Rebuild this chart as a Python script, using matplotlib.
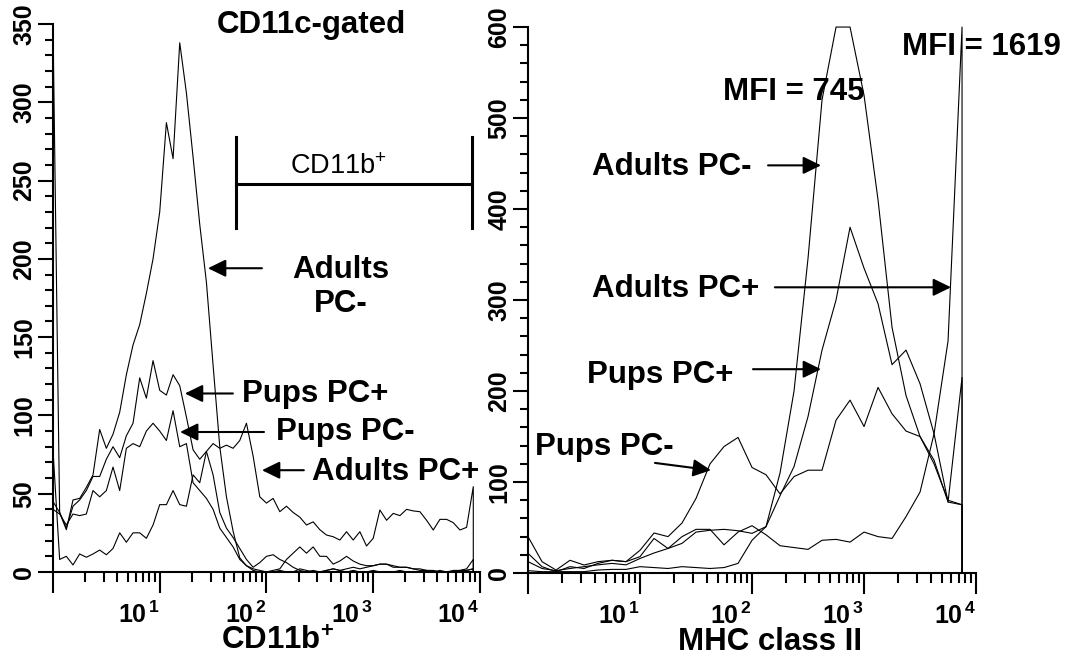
import numpy as np
import matplotlib.pyplot as plt
from matplotlib.ticker import MultipleLocator, LogLocator, NullFormatter

plt.rcParams['font.family'] = ['Liberation Sans', 'DejaVu Sans']
plt.rcParams['mathtext.fontset'] = 'custom'
plt.rcParams['mathtext.rm'] = 'Liberation Sans'
plt.rcParams['mathtext.bf'] = 'Liberation Sans:bold'

# CD11b histograms (CD11c-gated), 16 log channels per decade
cd11b_adults_neg = [350, 38, 27, 46, 47, 54, 62, 91, 79, 88, 102,
                    126, 145, 158, 178, 200, 230, 287, 264, 338, 306,
                    265, 222, 185, 132, 80, 48, 26, 9, 4, 2,
                    1, 0, 0, 1, 0, 0, 2, 1, 0, 0, 1, 2, 1, 0, 1, 0, 0, 1, 0, 0,
                    0, 1, 0, 0, 0, 1, 0, 0, 0, 0, 0, 1, 2]
cd11b_pups_pos = [45, 38, 28, 42, 46, 52, 61, 61, 72, 80, 73,
                  87, 95, 124, 111, 135, 116, 113, 126, 119, 99,
                  78, 72, 77, 62, 38, 28, 22, 15, 8, 3,
                  6, 10, 11, 8, 6, 3, 1, 0, 1, 0, 1, 2, 1, 2, 3, 2, 3, 4, 5, 5,
                  4, 3, 3, 2, 1, 1, 0, 1, 0, 0, 1, 2, 8]
cd11b_pups_neg = [40, 37, 30, 37, 36, 37, 52, 48, 52, 67, 52,
                  79, 82, 80, 90, 95, 90, 84, 103, 80, 82,
                  57, 52, 47, 40, 28, 22, 16, 8, 4, 1,
                  0, 0, 1, 2, 8, 12, 16, 12, 16, 10, 10, 5, 7, 10, 7, 5, 4, 4, 5, 5,
                  3, 3, 3, 2, 2, 1, 1, 0, 0, 1, 1, 1, 2]
cd11b_adults_pos = [78, 8, 10, 4.5, 11.5, 9.4, 11.5, 14, 11, 15, 25,
                    19, 25, 25, 21.5, 30, 43, 43, 52, 43, 42,
                    62, 57, 77, 82, 79, 81, 79, 84, 95, 74,
                    48, 44, 47, 38.5, 42, 38, 35, 30, 32, 27, 23.6, 22.5, 20.4, 25.7,
                    20.4, 25.7, 16.6, 21.5, 39.6, 33, 37.4, 36, 40, 39, 38.5, 33,
                    26.8, 33.6, 33.6, 31.5, 26.8, 28.5, 54.5]

# MHC class II histograms, 8 log channels per decade
mhc_adults_neg = [2.6, 1.5, 1.5, 1.5, 1.5, 3.3, 4, 4, 7, 6, 5, 7, 6, 5, 6, 10.6,
                  36, 51, 110, 200, 346, 520, 600, 600, 525, 410, 270, 195, 150,
                  120, 80, 75]
mhc_pups_pos = [12.5, 5, 2.6, 5, 7, 9, 10.6, 9, 16, 22, 27, 32.6, 45, 47, 48, 46.5,
                43.6, 51, 85, 117, 172, 245, 300, 380, 335, 296, 229, 245, 208,
                153, 78, 75]
mhc_adults_pos = [21.6, 7, 1.5, 7, 5, 10.6, 14, 12.5, 18, 38, 27, 40, 48, 48, 31, 45,
                  52, 42, 30, 28, 26, 36, 37, 34, 45, 40, 38, 62, 89, 153, 255, 600]
mhc_pups_neg = [40, 12.5, 3.3, 14, 8.8, 12.5, 14, 12.5, 25, 44, 40, 55, 82, 120, 139,
                149, 116, 108, 87, 106, 113, 113, 168, 190, 161, 204, 175, 156, 150,
                124, 78, 215]

cd11b_channels = 10 ** (np.arange(len(cd11b_adults_neg)) / 16)
mhc_channels = 10 ** (np.arange(len(mhc_adults_neg)) / 8)

# CD11b+ gate marker
gate_low, gate_high = 51.8, 8414
gate_y, gate_bottom, gate_top = 248, 220, 278

decade_labels = ['', r'$\mathbf{10}^{\,\mathbf{1}}$', r'$\mathbf{10}^{\,\mathbf{2}}$',
                 r'$\mathbf{10}^{\,\mathbf{3}}$', r'$\mathbf{10}^{\,\mathbf{4}}$']

LBL = dict(fontsize=22.5, fontweight='bold')
ARROW = dict(arrowstyle='-|>,head_length=0.45,head_width=0.22', lw=1.5,
             color='black', mutation_scale=24, shrinkA=0, shrinkB=0)


def trace(ax, x, y):
    # histogram outline closed down to the baseline at both ends
    xs = np.r_[x[0], x, x[-1]]
    ys = np.r_[0, y, 0]
    ax.plot(xs, ys, color='black', lw=0.8, clip_on=False)


def style(ax, ymax, ymajor, yminor):
    ax.set_xscale('log')
    ax.set_xlim(1, 1e4)
    ax.set_ylim(0, ymax)
    for s in ('top', 'right'):
        ax.spines[s].set_visible(False)
    for s in ('left', 'bottom'):
        ax.spines[s].set_linewidth(1.5)
    ax.set_xticks([1, 10, 100, 1000, 10000], labels=decade_labels, ha='right')
    ax.xaxis.set_minor_locator(LogLocator(base=10, subs=np.arange(2, 10)))
    ax.xaxis.set_minor_formatter(NullFormatter())
    yt = np.arange(0, ymax + 1, ymajor)
    ax.set_yticks(yt, labels=[str(v) for v in yt], rotation=90, va='center',
                  fontweight='bold')
    ax.yaxis.set_minor_locator(MultipleLocator(yminor))
    ax.tick_params(axis='x', which='major', length=15, width=1.5, pad=6, labelsize=18)
    ax.tick_params(axis='x', which='minor', length=7, width=1.5)
    ax.tick_params(axis='y', which='major', length=11, width=1.5, pad=1, labelsize=18)
    ax.tick_params(axis='y', which='minor', length=6, width=1.5)


fig = plt.figure(figsize=(10.68, 6.63), dpi=100)
ax1 = fig.add_axes([0.0496, 0.1373, 0.3998, 0.8265])
ax2 = fig.add_axes([0.4944, 0.1357, 0.4195, 0.8235])

# left panel: CD11b
for y in (cd11b_adults_neg, cd11b_pups_pos, cd11b_pups_neg, cd11b_adults_pos):
    trace(ax1, cd11b_channels, y)
style(ax1, 350, 50, 10)

ax1.text(34.4, 344, 'CD11c-gated', ha='left', va='baseline', **LBL)
ax1.plot([gate_low, gate_low], [gate_bottom, gate_top], color='black', lw=2.2)
ax1.plot([gate_high, gate_high], [gate_bottom, gate_top], color='black', lw=2.2)
ax1.plot([gate_low, gate_high], [gate_y, gate_y], color='black', lw=2.2)
ax1.text(472, 254, r'CD11b$^{+}$', ha='center', va='baseline', fontsize=19.5)

ax1.text(499, 187.7, 'Adults', ha='center', va='baseline', **LBL)
ax1.text(499, 166, 'PC-', ha='center', va='baseline', **LBL)
ax1.annotate('', xy=(28.3, 194), xytext=(90.7, 194), arrowprops=ARROW)
ax1.text(58.9, 108.7, 'Pups PC+', ha='left', va='baseline', **LBL)
ax1.annotate('', xy=(17.2, 114), xytext=(48.5, 114), arrowprops=ARROW)
ax1.text(122.7, 84.3, 'Pups PC-', ha='left', va='baseline', **LBL)
ax1.annotate('', xy=(15.5, 89.4), xytext=(94.8, 89.4), arrowprops=ARROW)
ax1.text(267, 58.7, 'Adults PC+', ha='left', va='baseline', **LBL)
ax1.annotate('', xy=(90.7, 65), xytext=(224, 65), arrowprops=ARROW)

# right panel: MHC class II
for y in (mhc_adults_neg, mhc_pups_pos, mhc_adults_pos, mhc_pups_neg):
    trace(ax2, mhc_channels, y)
style(ax2, 600, 100, 20)

ax2.text(55.1, 520, 'MFI = 745', ha='left', va='baseline', **LBL)
ax2.text(2184, 569, 'MFI = 1619', ha='left', va='baseline', **LBL)
ax2.text(3.73, 437, 'Adults PC-', ha='left', va='baseline', **LBL)
ax2.annotate('', xy=(413, 448), xytext=(139, 448), arrowprops=ARROW)
ax2.text(3.73, 303, 'Adults PC+', ha='left', va='baseline', **LBL)
ax2.annotate('', xy=(5980, 314), xytext=(160, 314), arrowprops=ARROW)
ax2.text(3.36, 209, 'Pups PC+', ha='left', va='baseline', **LBL)
ax2.annotate('', xy=(413, 224), xytext=(102, 224), arrowprops=ARROW)
ax2.text(1.155, 130, 'Pups PC-', ha='left', va='baseline', **LBL)
ax2.annotate('', xy=(43, 113), xytext=(13.6, 121), arrowprops=ARROW)

fig.text(278 / 1068, 1 - 650 / 663, r'CD11b$^{\mathbf{+}}$', ha='center',
         va='baseline', **LBL)
fig.text(770 / 1068, 1 - 650 / 663, 'MHC class II', ha='center', va='baseline', **LBL)

fig.savefig('out.png', dpi=100)
